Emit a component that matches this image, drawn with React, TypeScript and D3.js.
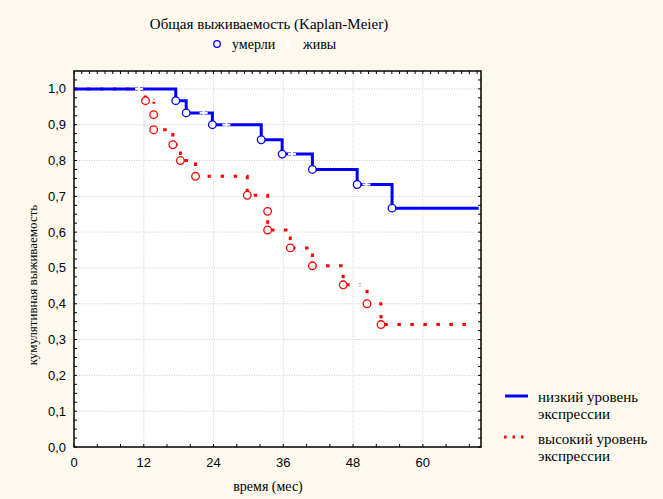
import React from "react";
import * as d3 from "d3";

// Kaplan-Meier, low expression group (blue, solid)
const lowTimes = [17.5, 19.3, 23.8, 32.2, 35.8, 41.0, 48.7, 54.7];
const lowSurv = [0.967, 0.933, 0.9, 0.858, 0.818, 0.775, 0.733, 0.667];
const lowEnd = 69.6;
const lowCensored = [11.2, 22.3, 26.2, 37.5, 50.3];

// high expression group (red, dotted)
const highTimes = [12.3, 13.7, 13.7, 17.0, 18.3, 20.9, 29.8, 33.3, 33.3, 37.2, 41.0, 46.3, 50.4, 52.8];
const highSurv = [0.967, 0.928, 0.886, 0.844, 0.8, 0.756, 0.703, 0.658, 0.606, 0.556, 0.506, 0.453, 0.4, 0.342];
const highEnd = 67.9;
const highCensored = [13.3, 24.2, 49.5];

const xTicks = [0, 12, 24, 36, 48, 60];
const yTicks = [0, 0.1, 0.2, 0.3, 0.4, 0.5, 0.6, 0.7, 0.8, 0.9, 1.0];

const W = 663;
const H = 499;
const plot = { left: 74, right: 481, top: 71, bottom: 447 };

const x = d3.scaleLinear().domain([0, 70]).range([plot.left, plot.right]);
const y = d3.scaleLinear().domain([0, 1.05]).range([plot.bottom, plot.top]);

const stepLine = d3
  .line<[number, number]>()
  .x((d) => x(d[0]))
  .y((d) => y(d[1]))
  .curve(d3.curveStepAfter);

const stepPoints = (times: number[], surv: number[], end: number) => {
  const pts: [number, number][] = [[0, 1]];
  times.forEach((t, i) => pts.push([t, surv[i]]));
  pts.push([end, surv[surv.length - 1]]);
  return pts;
};

const levelAt = (times: number[], surv: number[], t: number) => {
  let s = 1;
  times.forEach((tt, i) => {
    if (tt <= t) s = surv[i];
  });
  return s;
};

const BLUE = "#0000ff";
const RED = "#ff0000";
const serif = "'Liberation Serif', 'Times New Roman', serif";
const sans = "'Liberation Sans', Arial, sans-serif";

const Plus = ({ cx, cy }: { cx: number; cy: number }) => (
  <g stroke="#ffffff" strokeWidth={2}>
    <line x1={cx - 4} x2={cx + 4} y1={cy} y2={cy} />
    <line x1={cx} x2={cx} y1={cy - 4} y2={cy + 4} />
  </g>
);

const App = () => {
  const minorY = d3.range(0, 1.05, 0.025);
  const minorXBottom = d3.range(0, 70.01, 4);
  const minorXTop = d3.range(0, 70.01, 4 / 3);

  return (
    <svg width={W} height={H} style={{ position: "absolute", left: 0, top: 0, background: "#fdf9ef" }}>
      <rect x={0} y={0} width={W} height={H} fill="#fdf9ef" />
      <rect x={plot.left} y={plot.top} width={plot.right - plot.left} height={plot.bottom - plot.top} fill="#ffffff" />

      {/* grid */}
      <g stroke="#cccccc" strokeWidth={1} strokeDasharray="1 1.5">
        {yTicks.slice(1).map((v) => (
          <line key={"gy" + v} x1={plot.left} x2={plot.right} y1={y(v)} y2={y(v)} />
        ))}
        {xTicks.slice(1).map((t) => (
          <line key={"gx" + t} x1={x(t)} x2={x(t)} y1={plot.top} y2={plot.bottom} />
        ))}
      </g>

      {/* minor ticks */}
      <g stroke="#000" strokeWidth={1}>
        {minorY.map((v) => (
          <g key={"my" + v}>
            <line x1={plot.left} x2={plot.left + 3} y1={y(v)} y2={y(v)} />
            <line x1={plot.right} x2={plot.right - 3} y1={y(v)} y2={y(v)} />
          </g>
        ))}
        {minorXBottom.map((t) => (
          <line key={"mxb" + t} x1={x(t)} x2={x(t)} y1={plot.bottom} y2={plot.bottom - 3} />
        ))}
        {minorXTop.map((t) => (
          <line key={"mxt" + t} x1={x(t)} x2={x(t)} y1={plot.top} y2={plot.top + 3} />
        ))}
      </g>

      {/* curves: red first, blue on top */}
      <path
        d={stepLine(stepPoints(highTimes, highSurv, highEnd)) || ""}
        fill="none"
        stroke={RED}
        strokeWidth={3}
        strokeDasharray="3.5 9.5"
      />
      <path d={stepLine(stepPoints(lowTimes, lowSurv, lowEnd)) || ""} fill="none" stroke={BLUE} strokeWidth={3} />

      {/* censored (alive) */}
      {lowCensored.map((t) => (
        <Plus key={"lc" + t} cx={x(t)} cy={y(levelAt(lowTimes, lowSurv, t))} />
      ))}
      {highCensored.map((t) => (
        <Plus key={"hc" + t} cx={x(t)} cy={y(levelAt(highTimes, highSurv, t))} />
      ))}

      {/* events (died) */}
      {highTimes.map((t, i) => (
        <circle key={"he" + i} cx={x(t)} cy={y(highSurv[i])} r={3.8} fill="#fff" stroke={RED} strokeWidth={1.3} />
      ))}
      {lowTimes.map((t, i) => (
        <circle key={"le" + i} cx={x(t)} cy={y(lowSurv[i])} r={3.8} fill="#fff" stroke={BLUE} strokeWidth={1.3} />
      ))}

      {/* frame */}
      <rect
        x={plot.left}
        y={plot.top}
        width={plot.right - plot.left}
        height={plot.bottom - plot.top}
        fill="none"
        stroke="#000"
        strokeWidth={1.5}
      />

      {/* tick labels */}
      <g fontFamily={sans} fontSize={13} fill="#000">
        {yTicks.map((v) => (
          <text key={"ty" + v} x={66} y={y(v) + 4.5} textAnchor="end">
            {v.toFixed(1).replace(".", ",")}
          </text>
        ))}
        {xTicks.map((t) => (
          <text key={"tx" + t} x={x(t)} y={467} textAnchor="middle">
            {t}
          </text>
        ))}
      </g>

      {/* titles */}
      <g fontFamily={serif} fill="#000">
        <text x={269} y={29} textAnchor="middle" fontSize={15}>
          Общая выживаемость (Kaplan-Meier)
        </text>
        <circle cx={217} cy={44} r={3.3} fill="none" stroke={BLUE} strokeWidth={1.3} />
        <text x={232} y={49} fontSize={14}>
          умерли
        </text>
        <Plus cx={288} cy={44} />
        <text x={303} y={49} fontSize={14}>
          живы
        </text>
        <text x={268} y={491} textAnchor="middle" fontSize={14}>
          время (мес)
        </text>
        <text transform="translate(37,285) rotate(-90)" textAnchor="middle" fontSize={13}>
          кумулятивная выживаемость
        </text>

        {/* series legend */}
        <line x1={505} x2={528} y1={396} y2={396} stroke={BLUE} strokeWidth={3} />
        <text x={538} y={402} fontSize={15}>
          низкий уровень
        </text>
        <text x={538} y={419} fontSize={15}>
          экспрессии
        </text>
        <line x1={504} x2={526} y1={437} y2={437} stroke={RED} strokeWidth={3} strokeDasharray="2.5 6" />
        <text x={538} y={444} fontSize={15}>
          высокий уровень
        </text>
        <text x={538} y={461} fontSize={15}>
          экспрессии
        </text>
      </g>
    </svg>
  );
};

export default App;
